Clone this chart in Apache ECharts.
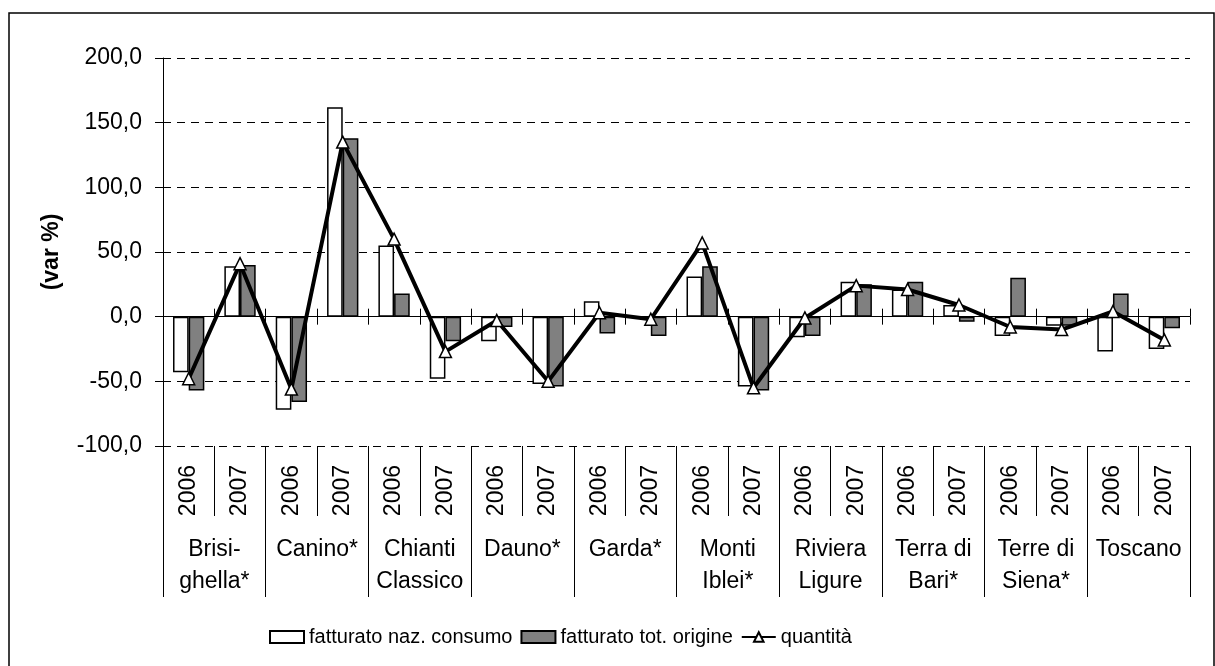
<!DOCTYPE html>
<html lang="it">
<head>
    <meta charset="UTF-8">
    <script src="https://cdn.jsdelivr.net/npm/echarts@6.0.0/dist/echarts.min.js"></script>
    <title>var %</title>
    <style>
      body { margin: 0; background: #fff; }
    </style>
</head>
<body>
    <div id="main" style="width: 1215px;height:666px;"></div>
    <script type="text/javascript">
      // gruppi e anni
      var groups = ['Brisi-\nghella*', 'Canino*', 'Chianti\nClassico', 'Dauno*', 'Garda*',
                    'Monti\nIblei*', 'Riviera\nLigure', 'Terra di\nBari*', 'Terre di\nSiena*', 'Toscano'];
      var years = ['2006', '2007'];
      var categories = [];
      groups.forEach(function (g) {
        years.forEach(function (y) { categories.push(g + ' ' + y); });
      });
      var yearLabels = categories.map(function (c) { return c.slice(-4); });

      // valori (var %)
      var consumo = [-43, 39, -72, 162, 55, -48, -19, -52, 12, 0,
                     31, -54, -16, 27, 21, 9, -15, -7, -27, -25];
      var origine = [-57, 40, -66, 138, 18, -19, -8, -54, -13, -15,
                     39, -57, -15, 25, 27, -4, 30, -7, 18, -9];
      var quantita = [-48, 41, -56, 135, 60, -27, -3, -50, 3, -2,
                      57, -55, -1, 24, 21, 9, -8, -10, 4, -18];

      var font = 'Liberation Sans';
      var fs = 23;
      var plot = { left: 163, right: 25, top: 58, bottom: 220 };
      // distanza tra la linea dello zero e il fondo del grafico
      var zeroOffset = -388 * 100 / 300;

      function hiddenY(i) {
        return { type: 'value', gridIndex: i, min: -100, max: 200, show: false };
      }

      var myChart = echarts.init(document.getElementById('main'));
      var option = {
        animation: false,
        textStyle: { fontFamily: font, color: '#000' },
        graphic: [{
          type: 'rect',
          shape: { x: 9, y: 13, width: 1205, height: 680 },
          style: { fill: 'none', stroke: '#000', lineWidth: 1.5 },
          silent: true
        }],
        grid: [plot, plot, plot, plot],
        legend: {
          bottom: 14,
          left: 264,
          itemWidth: 34,
          itemHeight: 12,
          itemGap: 8,
          textStyle: { fontFamily: font, fontSize: 20, color: '#000' },
          data: [
            { name: 'fatturato naz. consumo', icon: 'rect' },
            { name: 'fatturato tot. origine', icon: 'rect' },
            { name: 'quantità' }
          ]
        },
        xAxis: [
          { // asse sullo zero, tacche verso il basso
            type: 'category', data: categories, gridIndex: 0,
            axisLine: { onZero: true, lineStyle: { color: '#000', width: 1 } },
            axisTick: { show: true, interval: 0, length: 8, lineStyle: { color: '#000' } },
            axisLabel: { show: false }
          },
          { // tacche verso l'alto sullo zero
            type: 'category', data: categories, gridIndex: 1, position: 'bottom',
            offset: zeroOffset,
            axisLine: { show: false, onZero: false },
            axisTick: { show: true, interval: 0, inside: true, length: 8, lineStyle: { color: '#000' } },
            axisLabel: { show: false }
          },
          { // anni
            type: 'category', data: yearLabels, gridIndex: 2, position: 'bottom',
            axisLine: { onZero: false, show: false },
            axisTick: { show: true, interval: 0, length: 70, lineStyle: { color: '#000' } },
            axisLabel: { rotate: 90, interval: 0, margin: 19, fontSize: fs, fontFamily: font, color: '#000' }
          },
          { // gruppi
            type: 'category', data: groups, gridIndex: 3, position: 'bottom',
            axisLine: { onZero: false, show: false },
            axisTick: { show: true, interval: 0, length: 151, lineStyle: { color: '#000' } },
            axisLabel: { margin: 88, fontSize: fs, lineHeight: 32, fontFamily: font, color: '#000', interval: 0 }
          }
        ],
        yAxis: [{
          type: 'value', gridIndex: 0, min: -100, max: 200, interval: 50,
          name: '(var %)', nameLocation: 'middle', nameGap: 100, nameRotate: 90,
          nameTextStyle: { fontFamily: font, fontSize: fs, fontWeight: 'bold', color: '#000' },
          axisLine: { show: true, lineStyle: { color: '#000', width: 1 } },
          axisTick: { show: true, length: 8, lineStyle: { color: '#000' } },
          axisLabel: {
            margin: 21, fontSize: fs, fontFamily: font, color: '#000',
            formatter: function (v) { return v.toFixed(1).replace('.', ','); }
          },
          splitLine: { lineStyle: { color: '#000', type: [8, 6], width: 1 } }
        }, hiddenY(1), hiddenY(2), hiddenY(3)],
        series: [
          {
            name: 'fatturato naz. consumo', type: 'bar', data: consumo,
            barGap: '0%', barCategoryGap: '39%',
            itemStyle: { color: '#fff', borderColor: '#000', borderWidth: 1.5 }
          },
          {
            name: 'fatturato tot. origine', type: 'bar', data: origine,
            itemStyle: { color: '#808080', borderColor: '#000', borderWidth: 1.5 }
          },
          {
            name: 'quantità', type: 'line', data: quantita, z: 5,
            symbol: 'triangle', symbolSize: 12,
            lineStyle: { color: '#000', width: 4 },
            itemStyle: { color: '#fff', borderColor: '#000', borderWidth: 1.5 }
          }
        ]
      };
      myChart.setOption(option);
    </script>
</body>
</html>
